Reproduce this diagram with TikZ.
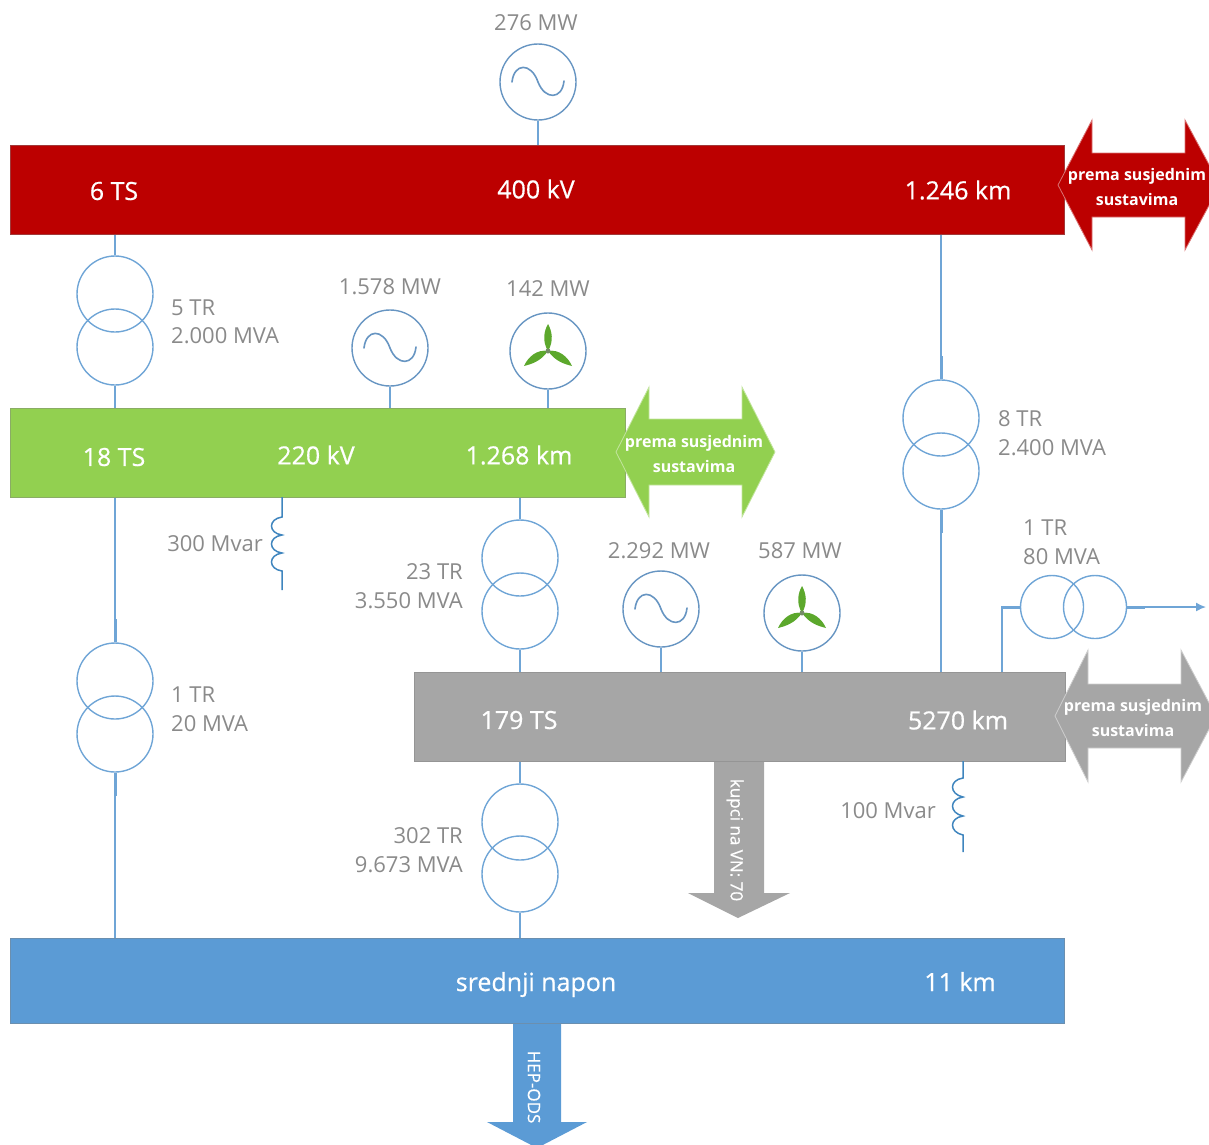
\documentclass[tikz,border=0pt]{standalone}
\usepackage{fontspec}
\setmainfont{Open Sans}
\newfontfamily\barfont[RawFeature={embolden=0.6}]{Open Sans}
\usetikzlibrary{arrows.meta}
\definecolor{redbar}{HTML}{BC0000}
\definecolor{greenbar}{HTML}{92D050}
\definecolor{greybar}{HTML}{A6A6A6}
\definecolor{bluebar}{HTML}{5B9BD5}
\definecolor{wire}{HTML}{6FA5D6}
\definecolor{coil}{HTML}{3F85BE}
\definecolor{machine}{HTML}{6795C2}
\definecolor{lbl}{HTML}{8A8A8A}
\definecolor{blade}{HTML}{5CA82C}
\tikzset{
  bar/.style={rectangle,inner sep=0pt,anchor=north west,draw=#1!55!gray,line width=.7pt,fill=#1},
  bartext/.style={text=white,font=\barfont\fontsize{25}{28}\selectfont,inner sep=0pt},
  arrowtext/.style={text=white,font=\fontsize{16}{24.5}\selectfont\bfseries,align=center,inner sep=0pt},
  rottext/.style={text=white,font=\barfont\fontsize{17}{20}\selectfont,inner sep=0pt,rotate=-90},
  lab/.style={text=lbl,font=\fontsize{22}{28.5}\selectfont,inner sep=0pt,align=left},
  labr/.style={lab,align=right},
  winding/.style={circle,draw=wire,line width=1.4pt,inner sep=0pt,minimum size=76pt},
  smallwinding/.style={circle,draw=wire,line width=1.4pt,inner sep=0pt,minimum size=63pt},
  mach/.style={circle,draw=machine,line width=1.4pt,inner sep=0pt,minimum size=76pt},
  conn/.style={draw=wire,line width=1.5pt},
  stub/.style={draw=wire,line width=3pt},
  coilline/.style={draw=coil,line width=1.5pt},
  wave/.style={draw=machine,line width=1.6pt,line cap=round},
}
\newcommand{\sinewave}[1]{%
  \draw[wave,shift={(#1.center)}] (-26,0) .. controls (-24,-19) and (-7,-20) .. (0,0) .. controls (7,18) and (24,18) .. (26,-1);}
\newcommand{\turbine}[1]{%
  \begin{scope}[shift={(#1.center)}]
    \fill[blade] (0,0) .. controls (-6,-10) and (-4,-20) .. (0,-27) .. controls (4,-20) and (6,-10) .. (0,0);
    \fill[blade] (0,0) .. controls (-7,10) and (-16,13) .. (-24,15) .. controls (-20,6) and (-11,-2) .. (0,0);
    \fill[blade] (0,0) .. controls (7,10) and (16,13) .. (24,15) .. controls (20,6) and (11,-2) .. (0,0);
    \fill[gray!70!blade] (0,0) circle (2.5);
  \end{scope}}
\newcommand{\dblarrow}[8]{% colour, left tip, left inner, right inner, right tip, centre y, head half, shaft half
  \filldraw[fill=#1,draw=#1!55!white,line width=.8pt] (#2,#6) -- (#3,#6-#7) -- (#3,#6-#8) -- (#4,#6-#8) -- (#4,#6-#7) -- (#5,#6) -- (#4,#6+#7) -- (#4,#6+#8) -- (#3,#6+#8) -- (#3,#6+#7) -- cycle;}
\begin{document}
\begin{tikzpicture}[x=1pt,y=-1pt]
\clip (0,0) rectangle (1209,1144);
% down arrows
\fill[greybar] (714,761) -- (764,761) -- (764,893) -- (790,893) -- (738,918) -- (688,893) -- (714,893) -- cycle;
\fill[bluebar] (513,1023) -- (561,1023) -- (561,1122) -- (587,1122) -- (537,1148) -- (487,1122) -- (513,1122) -- cycle;
% machines and transformers
\node[mach] (g0) at (538,82) {};
\node[winding] (t1a) at (115,294) {};
\node[winding] (t1b) at (115,347) {};
\node[mach] (g1) at (390,348) {};
\node[mach] (w1) at (548,351) {};
\node[winding] (t2a) at (941,418) {};
\node[winding] (t2b) at (941,471) {};
\node[winding] (t3a) at (520,558) {};
\node[winding] (t3b) at (520,611) {};
\node[mach] (g2) at (661,609) {};
\node[mach] (w2) at (802,613) {};
\node[smallwinding] (t4a) at (1052,607) {};
\node[smallwinding] (t4b) at (1095,607) {};
\node[winding] (t5a) at (115,681) {};
\node[winding] (t5b) at (115,734) {};
\node[winding] (t6a) at (520,822) {};
\node[winding] (t6b) at (520,874) {};
\sinewave{g0}\sinewave{g1}\sinewave{g2}
\turbine{w1}\turbine{w2}
% bars
\node[bar=redbar,minimum width=1054pt,minimum height=89pt] (red) at (10,145) {};
\node[bar=greenbar,minimum width=615pt,minimum height=89pt] (green) at (10,408) {};
\node[bar=greybar,minimum width=651pt,minimum height=89pt] (grey) at (414,672) {};
\node[bar=bluebar,minimum width=1054pt,minimum height=85pt] (blue) at (10,938) {};
% double arrows
\dblarrow{redbar}{1058}{1092}{1185}{1220}{185}{65}{32}
\dblarrow{greenbar}{616}{649}{742}{775}{452}{65}{33}
\dblarrow{greybar}{1055}{1088}{1181}{1216}{716}{66}{32}
% connectors
\draw[conn] (g0.south) -- (g0.south |- red.north);
\draw[conn] (t1a.north |- red.south) -- (t1a.north);
\draw[conn] (t1b.south) -- (t1b.south |- green.north);
\draw[conn] (g1.south) -- (g1.south |- green.north);
\draw[conn] (w1.south) -- (w1.south |- green.north);
\draw[conn] (t2a.north |- red.south) -- (t2a.north);
\draw[conn] (t2b.south) -- (t2b.south |- grey.north);
\draw[conn] (t3a.north |- green.south) -- (t3a.north);
\draw[conn] (t3b.south) -- (t3b.south |- grey.north);
\draw[conn] (g2.south) -- (g2.south |- grey.north);
\draw[conn] (w2.south) -- (w2.south |- grey.north);
\draw[conn] (t5a.north |- green.south) -- (t5a.north);
\draw[conn] (t5b.south) -- (t5b.south |- blue.north);
\draw[conn] (t6a.north |- grey.south) -- (t6a.north);
\draw[conn] (t6b.south) -- (t6b.south |- blue.north);
\coordinate (tap) at (1002,672);
\coordinate (out) at (1206,607);
\draw[conn] (tap) -- (tap |- t4a.west) -- (t4a.west);
\draw[conn,-{Latex[length=10pt,width=9pt]}] (t4b.east) -- (out);
% thicker stubs at the windings
\draw[stub] (t5a.north) -- ++(0,-23);
\draw[stub] (t5b.south) -- ++(0,23);
\draw[stub] (t2a.north) -- ++(0,-23);
\draw[stub] (t2b.south) -- ++(0,23);
\draw[stub] (t4a.west) -- ++(-18,0);
\draw[stub] (t4b.east) -- ++(18,0);
% shunt reactors
\coordinate (r1top) at (282,497);
\coordinate (r1end) at (282,590);
\draw[coilline] (r1top) -- (282,517)
  .. controls (268,519) and (268,533) .. (282,535)
  .. controls (268,537) and (268,551) .. (282,553)
  .. controls (268,555) and (268,569) .. (282,571) -- (r1end);
\coordinate (r2top) at (963,761);
\coordinate (r2end) at (963,852);
\draw[coilline] (r2top) -- (963,778)
  .. controls (949,780) and (949,794) .. (963,797)
  .. controls (949,799) and (949,813) .. (963,816)
  .. controls (949,818) and (949,832) .. (963,835) -- (r2end);
% bar texts
\node[bartext] (a1) at (114,191) {6 TS};
\node[bartext] (a2) at (536,189) {400 kV};
\node[bartext] (a3) at (958,190) {1.246 km};
\node[bartext] (b1) at (114,457) {18 TS};
\node[bartext] (b2) at (316,455) {220 kV};
\node[bartext] (b3) at (519,455) {1.268 km};
\node[bartext] (c1) at (519,720) {179 TS};
\node[bartext] (c2) at (958,720) {5270 km};
\node[bartext,anchor=base] (d1) at (536,991) {srednji napon};
\node[bartext,anchor=base] (d2) at (960,991) {11 km};
% arrow texts
\node[arrowtext] (e1) at (1137,187) {prema susjednim\\sustavima};
\node[arrowtext] (e2) at (694,454) {prema susjednim\\sustavima};
\node[arrowtext] (e3) at (1133,718) {prema susjednim\\sustavima};
\node[rottext] (f1) at (735,840) {kupci na VN: 70};
\node[rottext] (f2) at (534,1087) {HEP-ODS};
% labels
\node[lab] (l1) at (536,23) {276 MW};
\node[lab] (l2) at (390,287) {1.578 MW};
\node[lab] (l3) at (548,289) {142 MW};
\node[lab,anchor=west] (l4) at (171,322) {5 TR\\2.000 MVA};
\node[lab,anchor=west] (l5) at (998,433) {8 TR\\2.400 MVA};
\node[lab,anchor=west] (l6) at (1023,542) {1 TR\\80 MVA};
\node[lab] (l7) at (659,551) {2.292 MW};
\node[lab] (l8) at (800,551) {587 MW};
\node[labr,anchor=east] (l9) at (463,586) {23 TR\\3.550 MVA};
\node[lab,anchor=west] (l10) at (171,709) {1 TR\\20 MVA};
\node[labr,anchor=east] (l11) at (463,850) {302 TR\\9.673 MVA};
\node[lab,anchor=east] (l12) at (263,544) {300 Mvar};
\node[lab,anchor=east] (l13) at (936,811) {100 Mvar};
\end{tikzpicture}
\end{document}
